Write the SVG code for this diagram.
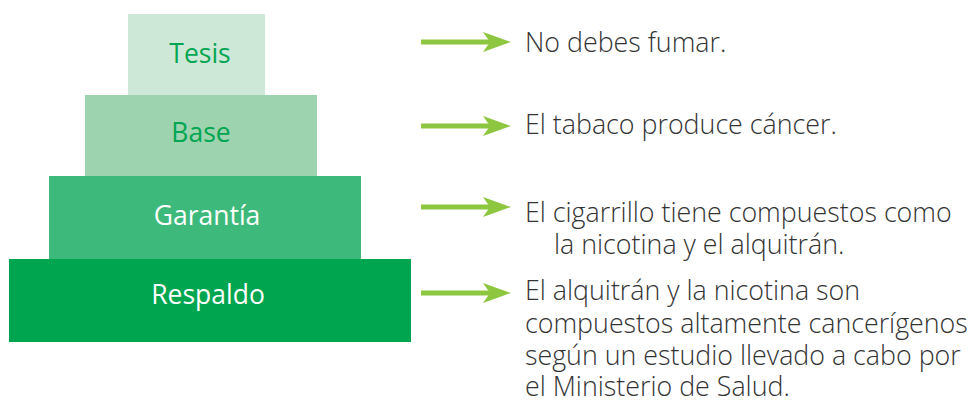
<svg xmlns="http://www.w3.org/2000/svg" width="977" height="405" viewBox="0 0 977 405">
<style>
.lbl{font-family:"Open Sans","Noto Sans",sans-serif;font-size:26.5px;text-anchor:middle}
.txt{font-family:"Open Sans","Noto Sans",sans-serif;font-weight:300;font-size:26.8px;fill:#333}
.arr{stroke:#8DC63F;stroke-width:5;fill:none}
.head{fill:#8DC63F}
</style>
<rect width="977" height="405" fill="#fff"/>
<g id="tesis"><rect x="128" y="14" width="137" height="81" fill="#CDE8D6"/><text class="lbl" x="200" y="63" fill="#00A651">Tesis</text></g>
<g id="base"><rect x="85" y="95" width="232" height="81" fill="#9DD3AE"/><text class="lbl" x="201" y="142" fill="#00A651">Base</text></g>
<g id="garantia"><rect x="49" y="176" width="312" height="83" fill="#3DBA7B"/><text class="lbl" x="207" y="225" fill="#fff">Garantía</text></g>
<g id="respaldo"><rect x="9" y="259" width="402" height="83" fill="#00A54F"/><text class="lbl" x="208" y="304" fill="#fff">Respaldo</text></g>
<g id="connectors">
<line class="arr" x1="421" y1="42" x2="490" y2="42"/><polygon class="head" points="483,32 511,42 483,52 490,42"/>
<line class="arr" x1="421" y1="126" x2="490" y2="126"/><polygon class="head" points="483,116 511,126 483,136 490,126"/>
<line class="arr" x1="421" y1="207" x2="490" y2="207"/><polygon class="head" points="483,197 511,207 483,217 490,207"/>
<line class="arr" x1="421" y1="293" x2="490" y2="293"/><polygon class="head" points="483,283 511,293 483,303 490,293"/>
</g>
<g id="texts">
<text class="txt" x="525" y="52">No debes fumar.</text>
<text class="txt" x="525" y="134">El tabaco produce cáncer.</text>
<text class="txt" x="525" y="222">El cigarrillo tiene compuestos como</text>
<text class="txt" x="554" y="254">la nicotina y el alquitrán.</text>
<text class="txt" x="525" y="300">El alquitrán y la nicotina son</text>
<text class="txt" x="525" y="333">compuestos altamente cancerígenos</text>
<text class="txt" x="525" y="365">según un estudio llevado a cabo por</text>
<text class="txt" x="525" y="396">el Ministerio de Salud.</text>
</g>
</svg>
